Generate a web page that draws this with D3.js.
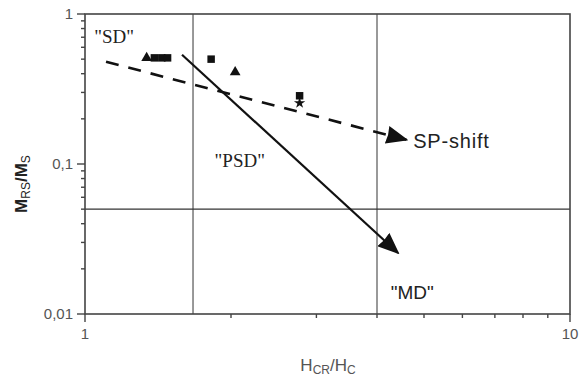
<!DOCTYPE html>
<html>
<head>
<meta charset="utf-8">
<script src="https://cdn.jsdelivr.net/npm/d3@7"></script>
<style>
  html, body { margin: 0; padding: 0; background: #fff; }
  svg { display: block; font-family: "Liberation Sans", Arial, sans-serif; }
</style>
</head>
<body>
<svg id="chart" width="583" height="378"></svg>
<script>
// ── data ──
const squareX = [1.39, 1.44, 1.48, 1.82, 2.77];
const squareY = [0.51, 0.51, 0.51, 0.50, 0.285];
const triangleX = [1.34, 2.04];
const triangleY = [0.51, 0.41];
const starX = [2.77];
const starY = [0.255];

const shiftArrow = [[1.105, 0.48], [4.6, 0.145]]; // dashed SP-shift
const mdArrow = [[1.585, 0.535], [4.42, 0.0255]]; // solid arrow to "MD"

const refX = [1.67, 4.0];
const refY = [0.05];

const xDomain = [1, 10];
const yDomain = [0.01, 1];
const yTickLabels = ["0,01", "0,1", "1"];
const xTickLabels = ["1", "10"];

const regionLabels = [
  { text: "\"SD\"", x: 1.045, y: 0.64, serif: true },
  { text: "\"PSD\"", x: 1.85, y: 0.096, serif: true },
  { text: "\"MD\"", x: 4.27, y: 0.0125, serif: false },
  { text: "SP-shift", x: 4.75, y: 0.128, serif: false },
];

// ── layout ──
const svg = d3.select("#chart");
const mLeft = 85, mRight = 570, mTop = 14, mBottom = 314;

const x = d3.scaleLog().domain(xDomain).range([mLeft, mRight]);
const y = d3.scaleLog().domain(yDomain).range([mBottom, mTop]);

const axisColor = "#444";
const labelColor = "#555";
const isMajor = (d) => Math.abs(Math.log10(d) - Math.round(Math.log10(d))) < 1e-9;

// reference lines
svg.append("g").selectAll("line").data(refX).enter().append("line")
  .attr("x1", (d) => x(d)).attr("x2", (d) => x(d))
  .attr("y1", mTop).attr("y2", mBottom)
  .attr("stroke", "#555").attr("stroke-width", 1.2);
svg.append("g").selectAll("line").data(refY).enter().append("line")
  .attr("x1", mLeft).attr("x2", mRight)
  .attr("y1", (d) => y(d)).attr("y2", (d) => y(d))
  .attr("stroke", "#333").attr("stroke-width", 1.2);

// frame
svg.append("rect")
  .attr("x", mLeft).attr("y", mTop)
  .attr("width", mRight - mLeft).attr("height", mBottom - mTop)
  .attr("fill", "none").attr("stroke", axisColor).attr("stroke-width", 1.6);

// ticks
svg.append("g").selectAll("line").data(x.ticks()).enter().append("line")
  .attr("x1", (d) => x(d)).attr("x2", (d) => x(d))
  .attr("y1", mBottom)
  .attr("y2", (d) => mBottom + (isMajor(d) ? 8 : 4))
  .attr("stroke", axisColor).attr("stroke-width", 1.4);

svg.append("g").selectAll("line").data(y.ticks()).enter().append("line")
  .attr("y1", (d) => y(d)).attr("y2", (d) => y(d))
  .attr("x1", mLeft)
  .attr("x2", (d) => mLeft - (isMajor(d) ? 8 : 4))
  .attr("stroke", axisColor).attr("stroke-width", 1.4);

// tick labels
svg.append("g").selectAll("text").data([0.01, 0.1, 1]).enter().append("text")
  .attr("x", mLeft - 12).attr("y", (d) => y(d) + 5)
  .attr("text-anchor", "end")
  .attr("font-size", 15).attr("fill", labelColor)
  .text((d, i) => yTickLabels[i]);

svg.append("g").selectAll("text").data([1, 10]).enter().append("text")
  .attr("x", (d) => x(d)).attr("y", mBottom + 25)
  .attr("text-anchor", "middle")
  .attr("font-size", 15).attr("fill", labelColor)
  .text((d, i) => xTickLabels[i]);

// axis titles
const xt = svg.append("text")
  .attr("x", 328).attr("y", 371)
  .attr("text-anchor", "middle")
  .attr("font-size", 17).attr("fill", labelColor);
xt.append("tspan").text("H");
xt.append("tspan").attr("font-size", 12).attr("dy", 3).text("CR");
xt.append("tspan").attr("dy", -3).text("/H");
xt.append("tspan").attr("font-size", 12).attr("dy", 3).text("C");

const yt = svg.append("text")
  .attr("transform", "translate(27,184) rotate(-90)")
  .attr("text-anchor", "middle")
  .attr("font-size", 17).attr("font-weight", "bold").attr("fill", "#222");
yt.append("tspan").text("M");
yt.append("tspan").attr("font-size", 12).attr("font-weight", "normal").attr("dy", 3).text("RS");
yt.append("tspan").attr("dy", -3).text("/M");
yt.append("tspan").attr("font-size", 12).attr("font-weight", "normal").attr("dy", 3).text("S");

// arrows
const defs = svg.append("defs");
defs.append("marker")
  .attr("id", "head")
  .attr("viewBox", "0 0 22 18")
  .attr("refX", 20).attr("refY", 9)
  .attr("markerWidth", 22).attr("markerHeight", 18)
  .attr("markerUnits", "userSpaceOnUse")
  .attr("orient", "auto")
  .append("path").attr("d", "M0,0 L22,9 L0,18 L1,9 Z").attr("fill", "#111");

const line = d3.line().x((d) => x(d[0])).y((d) => y(d[1]));

svg.append("path").datum(shiftArrow)
  .attr("d", line)
  .attr("fill", "none").attr("stroke", "#111").attr("stroke-width", 2.6)
  .attr("stroke-dasharray", "13,10")
  .attr("marker-end", "url(#head)");

svg.append("path").datum(mdArrow)
  .attr("d", line)
  .attr("fill", "none").attr("stroke", "#111").attr("stroke-width", 2.2)
  .attr("marker-end", "url(#head)");

// data markers
const squares = squareX.map((v, i) => [v, squareY[i]]);
const triangles = triangleX.map((v, i) => [v, triangleY[i]]);
const stars = starX.map((v, i) => [v, starY[i]]);

svg.append("g").selectAll("path").data(squares).enter().append("path")
  .attr("transform", (d) => `translate(${x(d[0])},${y(d[1])})`)
  .attr("d", d3.symbol(d3.symbolSquare, 56))
  .attr("fill", "#111");

svg.append("g").selectAll("path").data(triangles).enter().append("path")
  .attr("transform", (d) => `translate(${x(d[0])},${y(d[1])})`)
  .attr("d", d3.symbol(d3.symbolTriangle, 50))
  .attr("fill", "#111");

svg.append("g").selectAll("path").data(stars).enter().append("path")
  .attr("transform", (d) => `translate(${x(d[0])},${y(d[1])})`)
  .attr("d", d3.symbol(d3.symbolStar, 40))
  .attr("fill", "#111");

// region labels
svg.append("g").selectAll("text").data(regionLabels).enter().append("text")
  .attr("x", (d) => x(d.x)).attr("y", (d) => y(d.y))
  .attr("font-family", (d) => (d.serif ? "'Liberation Serif', 'Times New Roman', serif" : null))
  .attr("font-size", (d) => (d.text === "SP-shift" ? 20 : 19))
  .attr("letter-spacing", (d) => (d.text === "SP-shift" ? 0.8 : 0))
  .attr("fill", "#222")
  .text((d) => d.text);
</script>
</body>
</html>
